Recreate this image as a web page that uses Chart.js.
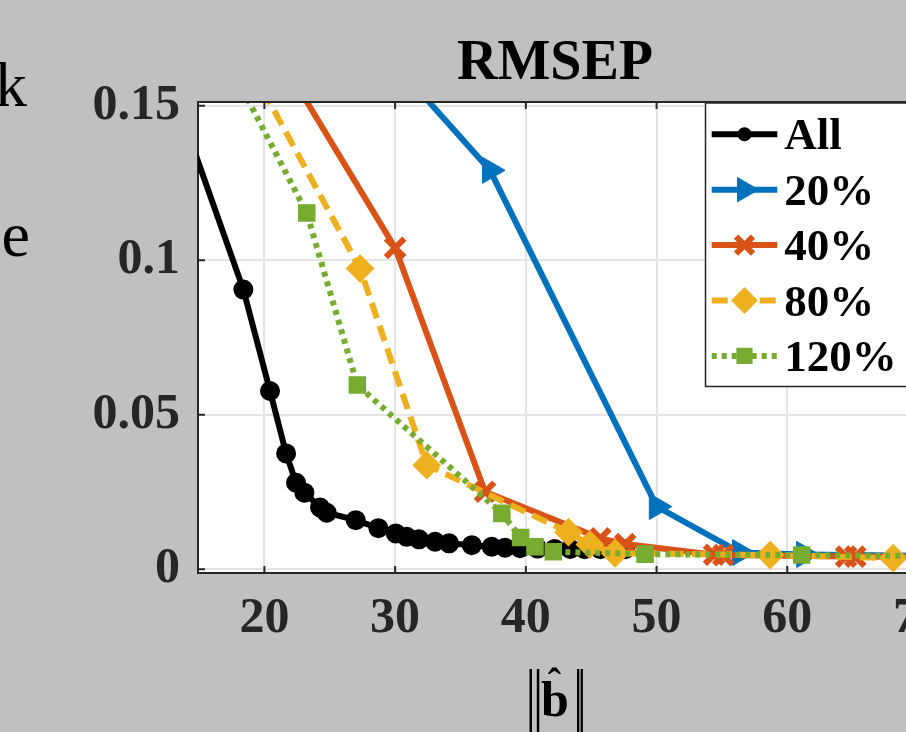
<!DOCTYPE html>
<html>
<head>
<meta charset="utf-8">
<script src="https://cdn.jsdelivr.net/npm/chart.js@4.4.0/dist/chart.umd.min.js"></script>
<style>
  html, body { margin: 0; padding: 0; background: #c0c0c0; overflow: hidden; }
  #wrap { position: relative; width: 906px; height: 732px; overflow: hidden; }
  canvas { display: block; }
</style>
</head>
<body>
<div id="wrap"><canvas id="rmsep" width="960" height="732"></canvas></div>
<script>
// values (x = ||b^||, y = RMSEP)
const seriesLabels = ['All', '20%', '40%', '80%', '120%'];

const xAll = [14, 18.39, 20.43, 21.66, 22.42, 23.06, 24.26, 24.77, 26.99, 28.72, 30.05, 30.89, 31.83,
              33.06, 34.13, 35.87, 37.39, 38.41, 39.56, 40.9, 42.2, 43.4, 44.5, 45.7, 46.8, 47.6];
const yAll = [0.143, 0.0905, 0.0577, 0.0375, 0.0280, 0.0248, 0.0200, 0.0183, 0.0159, 0.0133, 0.0116, 0.0105, 0.0097,
              0.0089, 0.0084, 0.0078, 0.0073, 0.0070, 0.0068, 0.0067, 0.0066, 0.0066, 0.0065, 0.0065, 0.0065, 0.0065];

const x20 = [28, 37.26, 50.02, 56.39, 61.29, 72];
const y20 = [0.173, 0.1291, 0.0203, 0.0054, 0.0048, 0.0043];

const x40 = [22, 30.0, 36.88, 45.7, 47.6, 54.4, 55.1, 64.5, 65.2, 75];
const y40 = [0.160, 0.104, 0.0251, 0.0100, 0.0082, 0.0047, 0.0046, 0.0041, 0.0041, 0.0038];

const x80 = [19, 27.32, 32.42, 43.26, 44.9, 46.83, 58.69, 68.1, 77];
const y80 = [0.162, 0.0973, 0.0337, 0.0120, 0.0080, 0.0052, 0.0046, 0.0036, 0.0034];

const x120 = [18, 23.24, 27.11, 38.16, 39.6, 40.7, 42.1, 49.12, 61.1, 73];
const y120 = [0.158, 0.1153, 0.0596, 0.0181, 0.0103, 0.0073, 0.0057, 0.0049, 0.0046, 0.0042];

const xTicks = [20, 30, 40, 50, 60, 70];
const yTicks = [0, 0.05, 0.1, 0.15];
const titleText = 'RMSEP';

const serif = "'Liberation Serif', 'Times New Roman', serif";
const ink = '#262626';

Chart.defaults.font.family = serif;

const zip = (xs, ys) => xs.map((x, i) => ({ x: x, y: ys[i] }));

function series(label, xs, ys, color, style, extra) {
    return Object.assign({
        label: label,
        data: zip(xs, ys),
        showLine: true,
        borderColor: color,
        backgroundColor: color,
        borderWidth: 6,
        pointBackgroundColor: color,
        pointBorderColor: color,
        pointStyle: style,
        tension: 0,
        clip: 0,
    }, extra);
}

const datasets = [
    series(seriesLabels[0], xAll, yAll, '#000000', 'circle', { pointRadius: 9, pointBorderWidth: 2, order: 5 }),
    series(seriesLabels[1], x20, y20, '#0072bd', 'triangle', { pointRadius: 15, pointBorderWidth: 1, pointRotation: 90, order: 4 }),
    series(seriesLabels[2], x40, y40, '#d95319', 'crossRot', { pointRadius: 13, pointBorderWidth: 6, order: 3 }),
    series(seriesLabels[3], x80, y80, '#edb120', 'rectRot', { pointRadius: 13, pointBorderWidth: 2, borderDash: [16, 8], order: 2 }),
    series(seriesLabels[4], x120, y120, '#77ac30', 'rect', { pointRadius: 11, pointBorderWidth: 2, borderDash: [5, 5], order: 1 }),
];

// white plot box, inner ticks, top border, title, legend etc.
const matlabLook = {
    id: 'matlabLook',
    beforeDraw(chart) {
        const { ctx, chartArea: a } = chart;
        ctx.save();
        ctx.fillStyle = '#ffffff';
        ctx.fillRect(a.left, a.top, a.right - a.left, a.bottom - a.top);
        ctx.restore();
    },
    afterDatasetsDraw(chart) {
        const { ctx, chartArea: a, scales } = chart;
        ctx.save();
        ctx.strokeStyle = ink;
        ctx.lineWidth = 2;
        ctx.beginPath();
        ctx.moveTo(a.left, a.top);
        ctx.lineTo(a.right, a.top);
        ctx.lineTo(a.right, a.bottom);
        xTicks.forEach(v => {
            const px = scales.x.getPixelForValue(v);
            ctx.moveTo(px, a.bottom);
            ctx.lineTo(px, a.bottom - 7);
            ctx.moveTo(px, a.top);
            ctx.lineTo(px, a.top + 7);
        });
        yTicks.forEach(v => {
            const py = scales.y.getPixelForValue(v);
            ctx.moveTo(a.left, py);
            ctx.lineTo(a.left + 7, py);
            ctx.moveTo(a.right, py);
            ctx.lineTo(a.right - 7, py);
        });
        ctx.stroke();
        ctx.restore();
    },
    afterDraw(chart) {
        const ctx = chart.ctx;
        ctx.save();

        // title
        ctx.fillStyle = '#000';
        ctx.textAlign = 'center';
        ctx.textBaseline = 'alphabetic';
        ctx.font = `bold 56px ${serif}`;
        ctx.fillText(titleText, 555, 79);

        // x label ||b^||
        ctx.fillRect(529.5, 669, 2.5, 70);
        ctx.fillRect(536.8, 669, 2.5, 70);
        ctx.fillRect(577, 669, 2.3, 70);
        ctx.fillRect(580.6, 669, 2.3, 70);
        ctx.font = `bold 50px ${serif}`;
        ctx.fillText('b', 555, 716);
        ctx.font = `bold 40px ${serif}`;
        ctx.fillText('\u02C6', 554.5, 696);

        // fragments of the neighbouring panel
        ctx.font = `64px ${serif}`;
        ctx.textAlign = 'right';
        ctx.fillText('k', 27, 106);
        ctx.fillText('e', 30, 256);

        // legend
        const box = { x: 705.5, y: 103, w: 208, h: 283.5 };
        ctx.fillStyle = '#ffffff';
        ctx.fillRect(box.x, box.y, box.w, box.h);
        ctx.strokeStyle = ink;
        ctx.lineWidth = 1.5;
        ctx.strokeRect(box.x, box.y, box.w, box.h);

        chart.data.datasets.forEach((ds, i) => {
            const cy = 134.3 + i * 55.4;
            ctx.save();
            ctx.strokeStyle = ds.borderColor;
            ctx.lineWidth = ds.borderWidth;
            ctx.setLineDash(ds.borderDash || []);
            ctx.beginPath();
            ctx.moveTo(711.7, cy);
            ctx.lineTo(777.3, cy);
            ctx.stroke();
            ctx.setLineDash([]);
            ctx.fillStyle = ds.pointBackgroundColor;
            ctx.strokeStyle = ds.pointBorderColor;
            ctx.lineWidth = ds.pointBorderWidth;
            const r = ds.pointStyle === 'circle' ? 6 : ds.pointRadius - 1;
            Chart.helpers.drawPoint(ctx, {
                pointStyle: ds.pointStyle,
                rotation: ds.pointRotation || 0,
                radius: r,
                borderWidth: ds.pointBorderWidth,
            }, 744.5, cy);
            ctx.restore();

            ctx.fillStyle = '#000';
            ctx.textAlign = 'left';
            ctx.font = `bold 45px ${serif}`;
            ctx.fillText(ds.label, 784.3, cy + 15);
        });

        ctx.restore();
    }
};

new Chart(document.getElementById('rmsep'), {
    type: 'scatter',
    data: { datasets: datasets },
    options: {
        responsive: false,
        animation: false,
        devicePixelRatio: 1,
        events: [],
        layout: { padding: { top: 102, right: 42, left: 0, bottom: 0 } },
        plugins: {
            legend: { display: false },
            title: { display: false },
            tooltip: { enabled: false },
        },
        scales: {
            x: {
                type: 'linear',
                min: 14.92,
                max: 70,
                afterBuildTicks: s => { s.ticks = xTicks.map(v => ({ value: v })); },
                afterFit: s => { s.height = 159; },
                grid: { color: '#e4e4e4', lineWidth: 2, drawTicks: false },
                border: { color: ink, width: 2 },
                ticks: {
                    color: ink,
                    padding: 16,
                    maxRotation: 0,
                    font: { size: 50, weight: 'bold', family: serif },
                    callback: v => String(v),
                },
            },
            y: {
                type: 'linear',
                min: -0.0012,
                max: 0.1512,
                afterBuildTicks: s => { s.ticks = yTicks.map(v => ({ value: v })); },
                afterFit: s => { s.width = 198; },
                grid: { color: '#e4e4e4', lineWidth: 2, drawTicks: false },
                border: { color: ink, width: 2 },
                ticks: {
                    color: ink,
                    padding: 18,
                    font: { size: 50, weight: 'bold', family: serif },
                    callback: v => String(v),
                },
            },
        },
    },
    plugins: [matlabLook],
});
</script>
</body>
</html>
